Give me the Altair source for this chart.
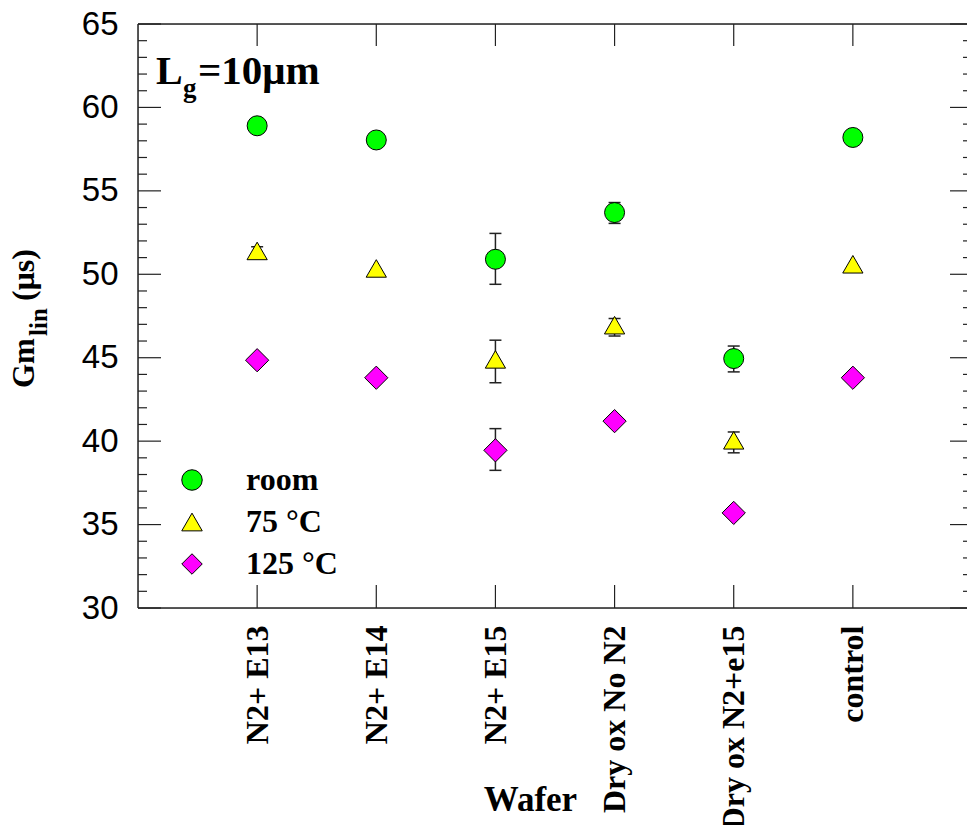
import altair as alt
import pandas as pd

# ---------------- data ----------------
wafers = ["N2+ E13", "N2+ E14", "N2+ E15", "Dry ox No N2", "Dry ox N2+e15", "control"]
positions = [1, 2, 3, 4, 5, 6]
series_names = ["room", "75 °C", "125 °C"]

room = [58.9, 58.05, 50.9, 53.7, 44.95, 58.2]
room_lo = [None, None, 49.4, 53.05, 44.15, None]
room_hi = [None, None, 52.45, 54.3, 45.7, None]

t75 = [51.4, 50.35, 44.9, 46.95, 40.05, 50.6]
t75_lo = [51.2, None, 43.5, 46.3, 39.3, None]
t75_hi = [51.65, None, 46.05, 47.35, 40.55, None]

t125 = [44.85, 43.8, 39.45, 41.2, 35.7, 43.8]
t125_lo = [None, None, 38.25, None, 35.5, None]
t125_hi = [None, None, 40.75, None, 35.9, None]

colors = ["#00ff00", "#ffff00", "#ff00ff"]
shapes = ["circle", "triangle-up", "diamond"]
sizes = [400, 410, 540]

y_major = [30, 35, 40, 45, 50, 55, 60, 65]
y_minor = [v for v in range(30, 66) if v % 5 != 0]

# ---------------- layout ----------------
W = 829   # visible plot width (right frame cut off like the reference)
H = 584
X_DOMAIN = [0, 6.958]
Y_DOMAIN = [30, 65]

rows = []
for name, sz, vals, los, his in [
    (series_names[0], sizes[0], room, room_lo, room_hi),
    (series_names[1], sizes[1], t75, t75_lo, t75_hi),
    (series_names[2], sizes[2], t125, t125_lo, t125_hi),
]:
    for p, w, v, lo, hi in zip(positions, wafers, vals, los, his):
        rows.append({"pos": p, "wafer": w, "series": name, "val": v, "lo": lo, "hi": hi, "sz": sz})
df = pd.DataFrame(rows)
err = df.dropna(subset=["lo", "hi"])

label_expr = "[" + ",".join("'" + w + "'" for w in wafers) + "][datum.value - 1]"

xscale = alt.Scale(domain=X_DOMAIN, nice=False, zero=False)
yscale = alt.Scale(domain=Y_DOMAIN, nice=False, zero=False)

SERIF = "Liberation Serif"
SANS = "Liberation Sans"

base_x = alt.X(
    "pos:Q",
    scale=xscale,
    axis=alt.Axis(
        values=positions,
        labelExpr=label_expr,
        labelAngle=270,
        labelAlign="right",
        labelBaseline="middle",
        labelFont=SERIF,
        labelFontWeight="bold",
        labelFontSize=32,
        labelColor="black",
        labelPadding=17,
        labelLimit=0,
        ticks=False,
        tickSize=0,
        domain=False,
        grid=False,
        labelOverlap=False,
        title="Wafer",
        titleFont=SERIF,
        titleFontWeight="bold",
        titleFontSize=35,
        titleColor="black",
        titleX=392,
        titleY=202,
        titleAlign="center",
        titleBaseline="alphabetic",
    ),
)
base_y = alt.Y(
    "val:Q",
    scale=yscale,
    axis=alt.Axis(
        values=y_major,
        labelFont=SANS,
        labelFontSize=33,
        labelColor="black",
        labelPadding=20,
        labelBaseline="middle",
        ticks=False,
        tickSize=0,
        domain=False,
        grid=False,
        title=None,
    ),
)

color = alt.Color(
    "series:N",
    scale=alt.Scale(domain=series_names, range=colors),
    legend=alt.Legend(
        title=None,
        orient="none",
        legendX=38,
        legendY=440,
        labelFont=SERIF,
        labelFontWeight="bold",
        labelFontSize=32,
        labelColor="black",
        symbolSize=420,
        symbolStrokeColor="black",
        symbolStrokeWidth=1,
        symbolOpacity=1,
        rowPadding=10,
        labelOffset=38,
        labelLimit=0,
        padding=0,
    ),
)
shape = alt.Shape("series:N", scale=alt.Scale(domain=series_names, range=shapes))
size = alt.Size("sz:Q", scale=None, legend=None)

points = alt.Chart(df).mark_point(
    filled=True, stroke="black", strokeWidth=1, opacity=1
).encode(x=base_x, y=base_y, color=color, shape=shape, size=size)

err_bars = alt.Chart(err).mark_rule(color="#222222", strokeWidth=1.5).encode(
    x=alt.X("pos:Q", scale=xscale),
    y=alt.Y("lo:Q", scale=yscale),
    y2="hi:Q",
)
cap_hi = alt.Chart(err).mark_rule(color="#222222", strokeWidth=1.5, xOffset=-6, x2Offset=6).encode(
    x=alt.X("pos:Q", scale=xscale), x2="pos:Q", y=alt.Y("hi:Q", scale=yscale)
)
cap_lo = alt.Chart(err).mark_rule(color="#222222", strokeWidth=1.5, xOffset=-6, x2Offset=6).encode(
    x=alt.X("pos:Q", scale=xscale), x2="pos:Q", y=alt.Y("lo:Q", scale=yscale)
)

# ---------------- frame and inward ticks ----------------
FRAME = "#222222"
frame_left = alt.Chart().mark_rule(color=FRAME, strokeWidth=1.5).encode(
    x=alt.value(0), y=alt.value(0), y2=alt.value(H)
)
frame_top = alt.Chart().mark_rule(color=FRAME, strokeWidth=1.5).encode(
    x=alt.value(0), x2=alt.value(W), y=alt.value(0)
)
frame_bottom = alt.Chart().mark_rule(color=FRAME, strokeWidth=1.5).encode(
    x=alt.value(0), x2=alt.value(W), y=alt.value(H)
)

df_major = pd.DataFrame({"t": y_major})
df_minor = pd.DataFrame({"t": y_minor})
df_xt = pd.DataFrame({"p": positions})


def ytick(data, x0, x1):
    return alt.Chart(data).mark_rule(color=FRAME, strokeWidth=1.2).encode(
        x=alt.value(x0), x2=alt.value(x1), y=alt.Y("t:Q", scale=yscale)
    )


ticks = [
    ytick(df_major, 0, 23),
    ytick(df_minor, 0, 9),
    ytick(df_major, W - 17, W),
    ytick(df_minor, W - 4, W),
    alt.Chart(df_xt).mark_rule(color=FRAME, strokeWidth=1.2).encode(
        x=alt.X("p:Q", scale=xscale), y=alt.value(0), y2=alt.value(22)
    ),
    alt.Chart(df_xt).mark_rule(color=FRAME, strokeWidth=1.2).encode(
        x=alt.X("p:Q", scale=xscale), y=alt.value(H - 23), y2=alt.value(H)
    ),
]

# ---------------- annotation texts ----------------
def txt(s, x, y, fs, angle=0, align="left", font=SERIF, weight="bold"):
    return alt.Chart().mark_text(
        text=s, font=font, fontWeight=weight, fontSize=fs, angle=angle,
        align=align, baseline="alphabetic", color="black",
    ).encode(x=alt.value(x), y=alt.value(y))


annot = [
    txt("L", 18, 60, 40),
    txt("g", 45, 73, 27),
    txt("=10μm", 60, 60, 41),
    # y-axis title, rotated
    txt("Gm", -104, 364, 31, angle=270),
    txt("lin", -91, 312, 25, angle=270),
    txt("(μs)", -104, 277, 32, angle=270),
]

chart = alt.layer(
    frame_left, frame_top, frame_bottom, *ticks, err_bars, cap_hi, cap_lo, points, *annot
).properties(
    width=W,
    height=H,
    autosize="none",
    padding={"left": 138, "top": 24, "right": 0, "bottom": 217},
).configure_view(stroke=None).configure(background="white")

chart.save("out.html", embed_options={"renderer": "svg", "actions": False})
